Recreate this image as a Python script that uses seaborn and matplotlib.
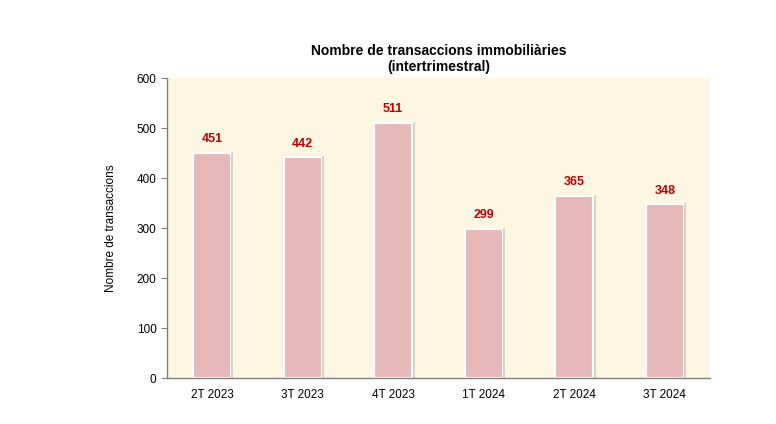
import matplotlib
matplotlib.use("Agg")
import matplotlib.pyplot as plt
import seaborn as sns
import pandas as pd
import numpy as np

# Chart data
quarters = ["2T 2023", "3T 2023", "4T 2023", "1T 2024", "2T 2024", "3T 2024"]
transactions = [451, 442, 511, 299, 365, 348]

df = pd.DataFrame({"Trimestre": quarters, "Transaccions": transactions})

sns.set_style("white")
plt.rcParams['font.family'] = ['Liberation Sans', 'DejaVu Sans']
plt.rcParams['text.color'] = 'black'
plt.rcParams['axes.labelcolor'] = 'black'
plt.rcParams['xtick.labelcolor'] = 'black'
plt.rcParams['ytick.labelcolor'] = 'black'

fig = plt.figure(figsize=(7.76, 4.24), dpi=100)
ax = fig.add_axes([0.215, 0.108, 0.70, 0.708])
ax.set_facecolor("#FDF6E3")

sns.barplot(data=df, x="Trimestre", y="Transaccions", color="#E6B9B8",
            width=0.42, edgecolor="white", linewidth=1.5, saturation=1, ax=ax)

# light grey shadow on the right of each bar
for p in ax.patches:
    ax.plot([p.get_x() + p.get_width() + 0.015] * 2, [0, p.get_height()],
            color="#D9D2C5", lw=1.5, zorder=1)

for i, v in enumerate(transactions):
    ax.text(i, v + 15, str(v), ha="center", va="bottom", color="#C00000",
            fontsize=9, fontweight="bold")

ax.set_ylim(0, 600)
ax.set_xlim(-0.5, len(quarters) - 0.5)
ax.set_yticks(range(0, 601, 100))
ax.set_xticks(np.arange(len(quarters)))
ax.set_xticklabels(quarters)
ax.set_xticks(np.arange(-0.5, len(quarters)), minor=True)
ax.tick_params(axis="x", which="major", length=0, pad=8, labelsize=8.5)
ax.tick_params(axis="x", which="minor", length=4, color="#808080", direction="out")
ax.tick_params(axis="y", length=4, color="#808080", direction="out", labelsize=8.5, left=True)

for s in ["top", "right"]:
    ax.spines[s].set_visible(False)
for s in ["left", "bottom"]:
    ax.spines[s].set_color("#808080")
    ax.spines[s].set_linewidth(1)

ax.set_xlabel("")
ax.set_ylabel("Nombre de transaccions", fontsize=8.5, labelpad=14)
ax.set_title("Nombre de transaccions immobiliàries\n(intertrimestral)",
             fontsize=10, fontweight="bold", pad=5)

fig.savefig("out.png", dpi=100, facecolor="white")
